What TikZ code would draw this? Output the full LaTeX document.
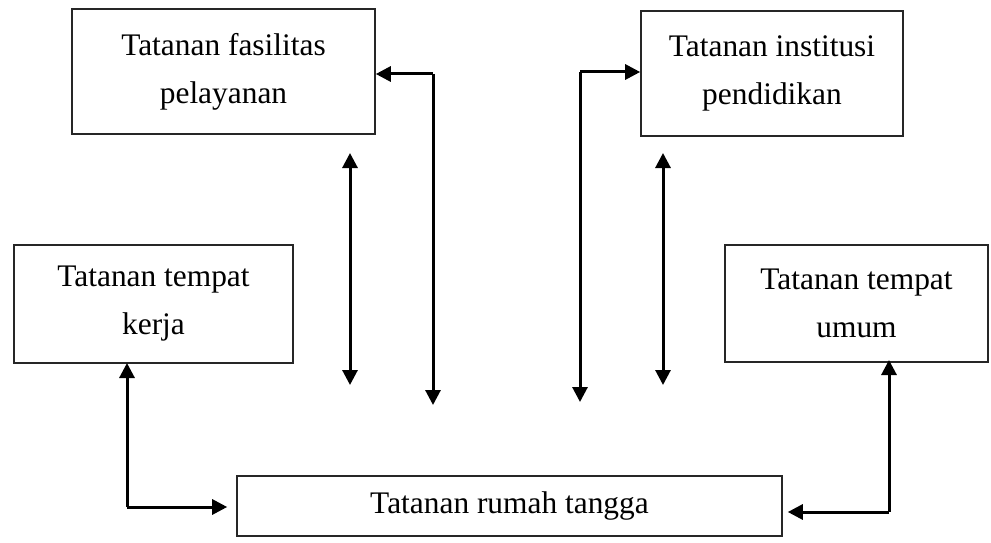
\documentclass[tikz,border=0pt]{standalone}
\usepackage{fontspec}
\setmainfont{Liberation Serif}
\usetikzlibrary{arrows.meta}
\begin{document}
\begin{tikzpicture}[x=1pt,y=-1pt,
  box/.style={draw=black!85, line width=1.6pt, rectangle, align=center, inner sep=0pt,
    font=\fontsize{31.4}{48}\selectfont},
  arr/.style={line width=3pt, -{Triangle[length=15pt,width=15pt]}},
  dbl/.style={line width=3pt, {Triangle[length=15pt,width=15pt]}-{Triangle[length=15pt,width=15pt]}}]
\useasboundingbox (0,0) rectangle (991,543);
\node[box, minimum width=303pt, minimum height=125pt] (fas) at (223.5,71.5) {Tatanan fasilitas\\pelayanan};
\node[box, minimum width=262pt, minimum height=125pt] (ins) at (772,73.5) {Tatanan institusi\\pendidikan};
\node[box, minimum width=279pt, minimum height=118pt] (ker) at (153.5,304) {Tatanan tempat\\kerja};
\node[box, minimum width=263pt, minimum height=117pt] (umu) at (856.5,303.5) {Tatanan tempat\\umum};
\node[box, minimum width=545pt, minimum height=60pt] (rum) at (509.5,506) {Tatanan rumah tangga};
% free ends
\coordinate (fa) at (433,405);
\coordinate (fc) at (433,74);
\coordinate (ia) at (580,402);
\coordinate (ic) at (580,72);
\coordinate (d1a) at (350,153);
\coordinate (d1b) at (350,385);
\coordinate (d2a) at (663,153);
\coordinate (d2b) at (663,385);
\coordinate (kb) at (127,363);
\coordinate (kc) at (127,507);
\coordinate (ub) at (889,363);
\coordinate (uc) at (889,512);
% connectors
\draw[arr] (fc) -- (fa);
\draw[arr] (fc) -- (fas.east |- fc);
\draw[arr] (ic) -- (ia);
\draw[arr] (ic) -- (ins.west |- ic);
\draw[dbl] (d1a) -- (d1b);
\draw[dbl] (d2a) -- (d2b);
\draw[arr] (kc) -- (kb);
\draw[arr, shorten >=9pt] (kc) -- (rum.west |- kc);
\draw[arr] (uc) -- ([yshift=3pt]ub);
\draw[arr, shorten >=5pt] (uc) -- (rum.east |- uc);
\end{tikzpicture}
\end{document}
